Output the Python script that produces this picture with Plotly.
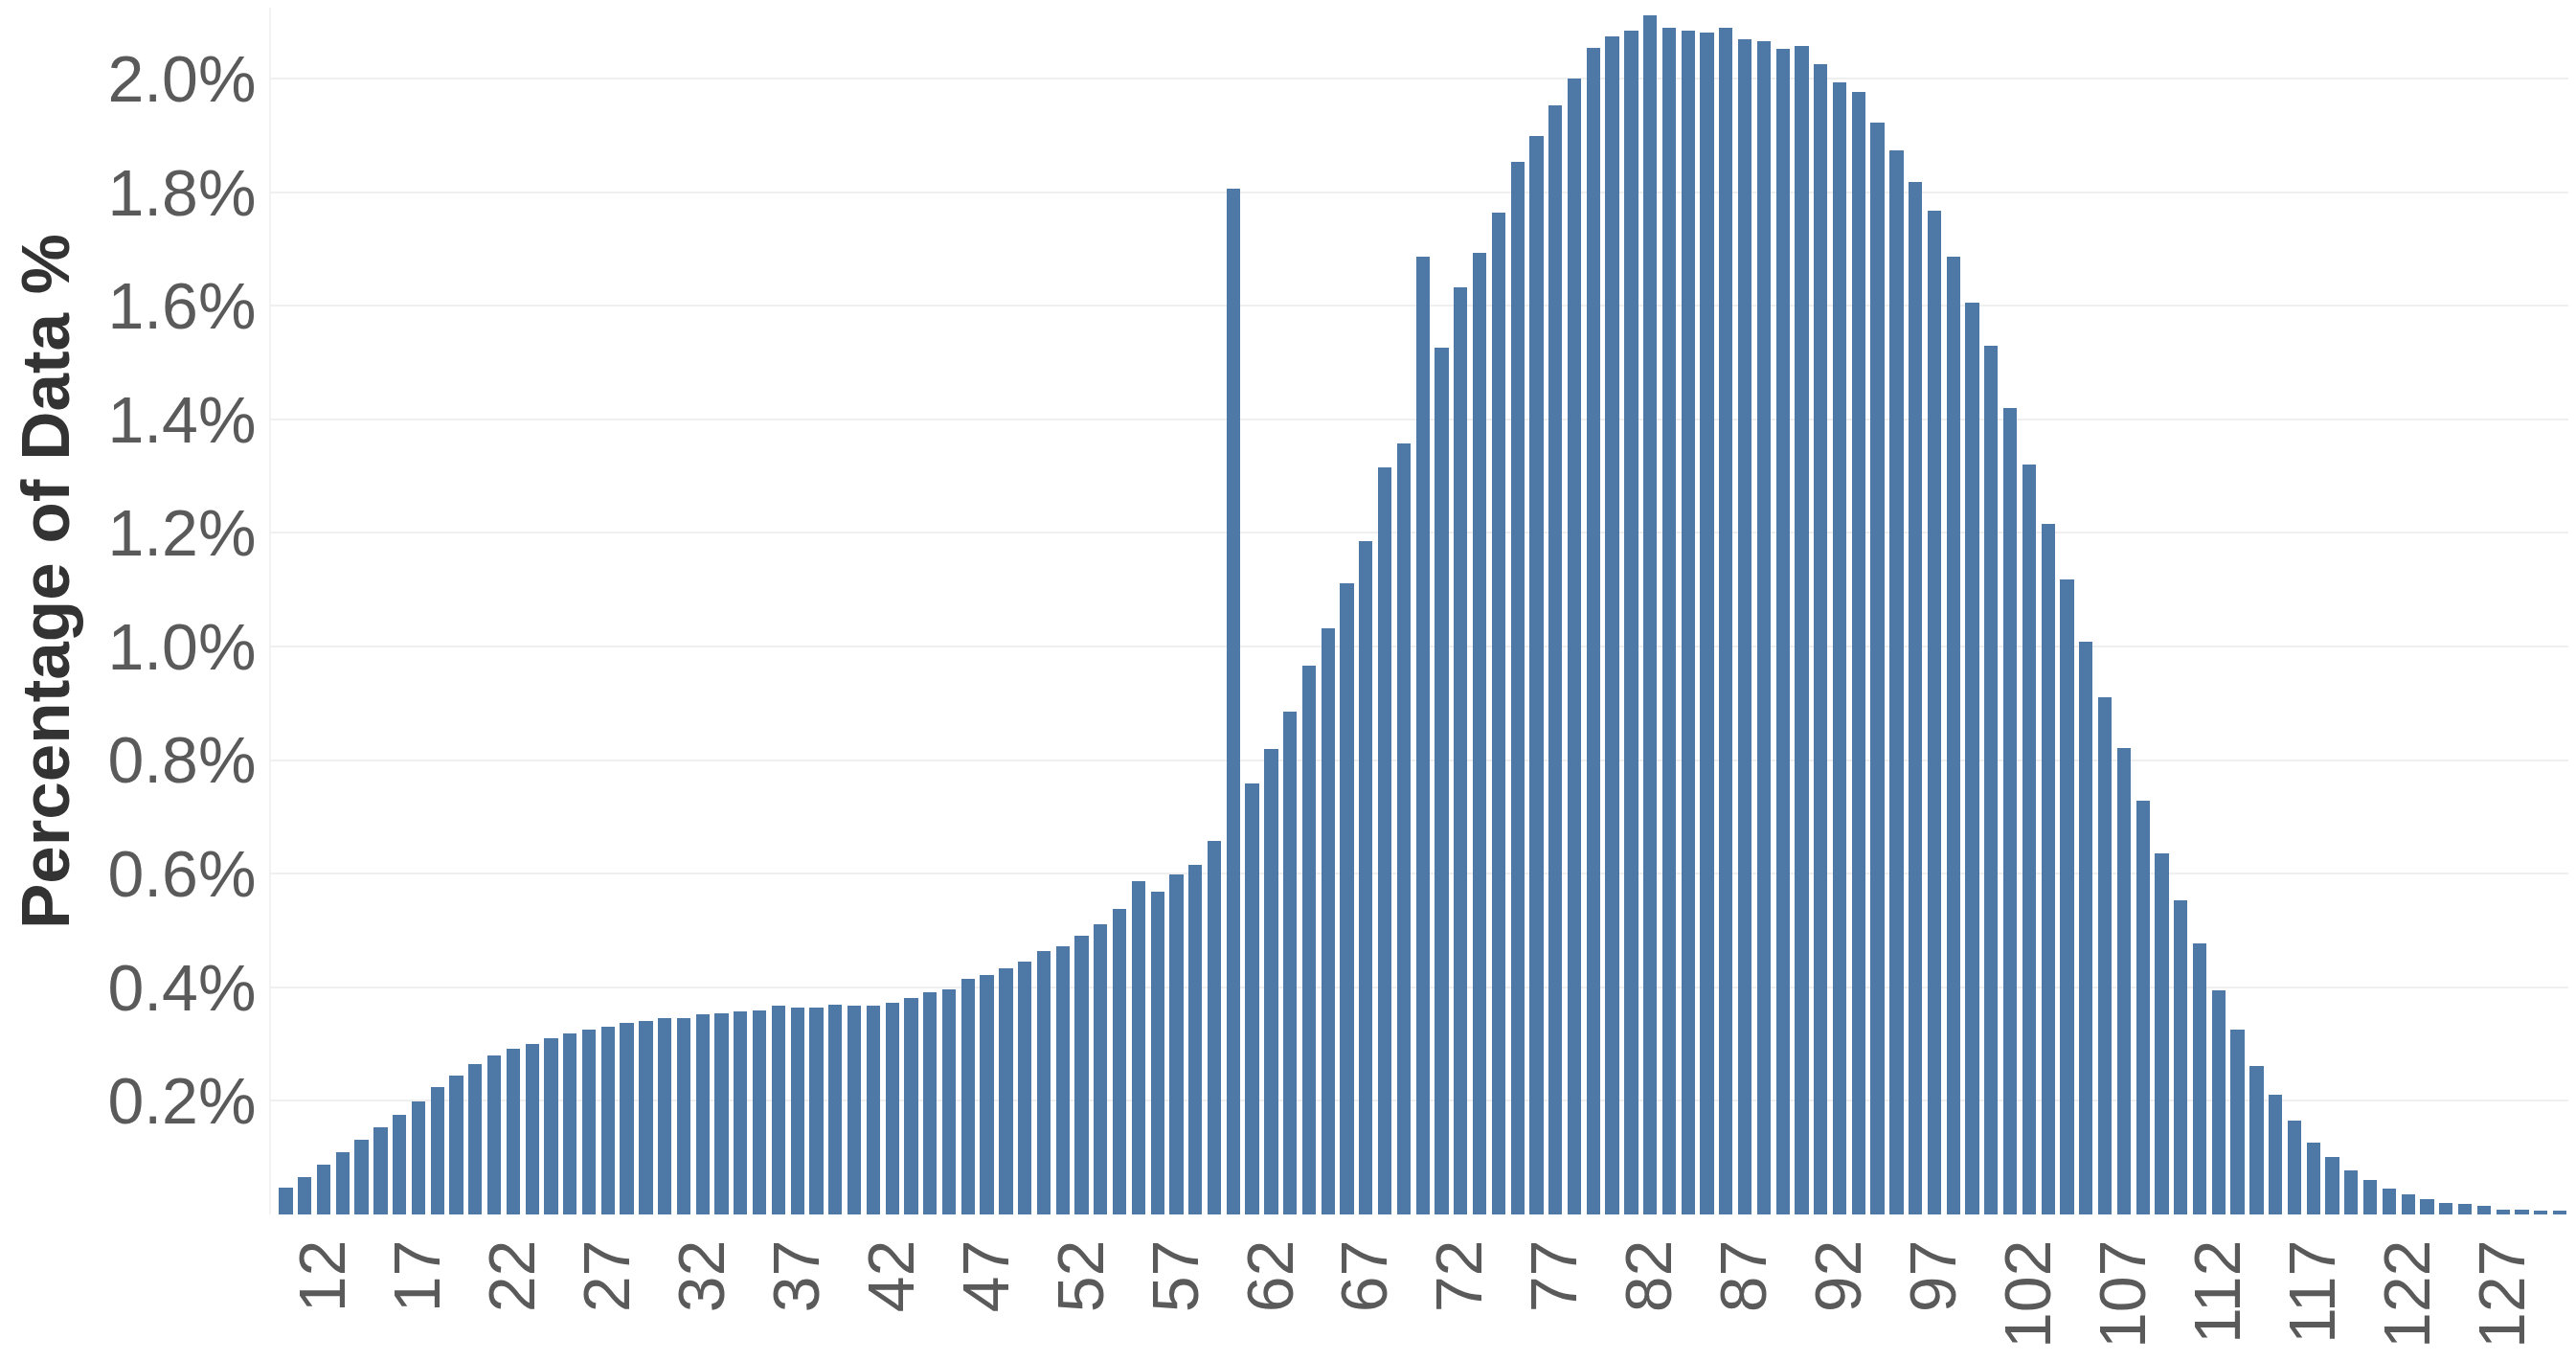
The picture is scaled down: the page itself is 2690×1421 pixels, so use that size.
import plotly.graph_objects as go

# Category values (x) 10..130
categories = list(range(10, 131))

# Percentage of data (in %)
values = [
    0.048, 0.066, 0.087, 0.109, 0.132, 0.154, 0.175, 0.199, 0.225, 0.244,   # 10-19
    0.265, 0.280, 0.292, 0.301, 0.310, 0.318, 0.325, 0.331, 0.337, 0.340,   # 20-29
    0.346, 0.346, 0.352, 0.355, 0.358, 0.360, 0.367, 0.364, 0.364, 0.370,   # 30-39
    0.367, 0.367, 0.373, 0.382, 0.391, 0.397, 0.415, 0.421, 0.433, 0.445,   # 40-49
    0.463, 0.472, 0.490, 0.511, 0.538, 0.587, 0.568, 0.599, 0.616, 0.657,   # 50-59
    1.807, 0.759, 0.819, 0.885, 0.966, 1.032, 1.111, 1.186, 1.315, 1.357,   # 60-69
    1.686, 1.527, 1.632, 1.693, 1.764, 1.854, 1.899, 1.953, 2.000, 2.055,   # 70-79
    2.075, 2.084, 2.111, 2.090, 2.084, 2.081, 2.090, 2.070, 2.066, 2.052,   # 80-89
    2.057, 2.025, 1.994, 1.977, 1.923, 1.874, 1.818, 1.767, 1.686, 1.605,   # 90-99
    1.530, 1.420, 1.321, 1.216, 1.119, 1.008, 0.911, 0.821, 0.729, 0.636,   # 100-109
    0.553, 0.477, 0.394, 0.325, 0.261, 0.210, 0.165, 0.126, 0.102, 0.078,   # 110-119
    0.060, 0.045, 0.036, 0.027, 0.021, 0.018, 0.015, 0.009, 0.009, 0.006,   # 120-129
    0.006,                                                                  # 130
]

x_tickvals = list(range(12, 131, 5))
x_ticktext = [str(v) for v in x_tickvals]
y_tickvals = [0.2, 0.4, 0.6, 0.8, 1.0, 1.2, 1.4, 1.6, 1.8, 2.0]
y_ticktext = ["0.2%", "0.4%", "0.6%", "0.8%", "1.0%", "1.2%", "1.4%", "1.6%", "1.8%", "2.0%"]

fig = go.Figure()
fig.add_trace(go.Bar(
    x=categories,
    y=values,
    width=0.72,
    marker=dict(color="#4E79A7", line=dict(width=0)),
    showlegend=False,
))

font_family = "Liberation Sans, Arial, sans-serif"

# The page body has an 8px default margin, so the figure is sized to fit the window.
fig.update_layout(
    width=2682,
    height=1413,
    margin=dict(l=275, r=0, t=0, b=153, pad=0),
    paper_bgcolor="white",
    plot_bgcolor="white",
    font=dict(family=font_family, color="#5a5a5a"),
    bargap=0,
    xaxis=dict(
        range=[9.22, 130.86],
        tickmode="array",
        tickvals=x_tickvals,
        ticktext=x_ticktext,
        tickangle=-90,
        tickfont=dict(size=68, color="#5a5a5a", family=font_family),
        showgrid=False,
        zeroline=False,
        showline=False,
        ticks="",
        ticklabelstandoff=12,
    ),
    yaxis=dict(
        range=[0, 2.125],
        tickmode="array",
        tickvals=y_tickvals,
        ticktext=y_ticktext,
        tickfont=dict(size=68, color="#5a5a5a", family=font_family),
        showgrid=True,
        gridcolor="#efefef",
        gridwidth=2,
        zeroline=False,
        showline=True,
        linecolor="#f2f2f2",
        linewidth=2,
        ticks="",
        ticklabelstandoff=0,
    ),
    annotations=[
        dict(
            text="<b>Percentage of Data %</b>",
            textangle=-90,
            xref="paper", yref="paper",
            x=-0.098, y=0.5246,
            xanchor="center", yanchor="middle",
            showarrow=False,
            font=dict(size=71, color="#333333", family=font_family),
        )
    ],
)

fig.write_html("out.html")
